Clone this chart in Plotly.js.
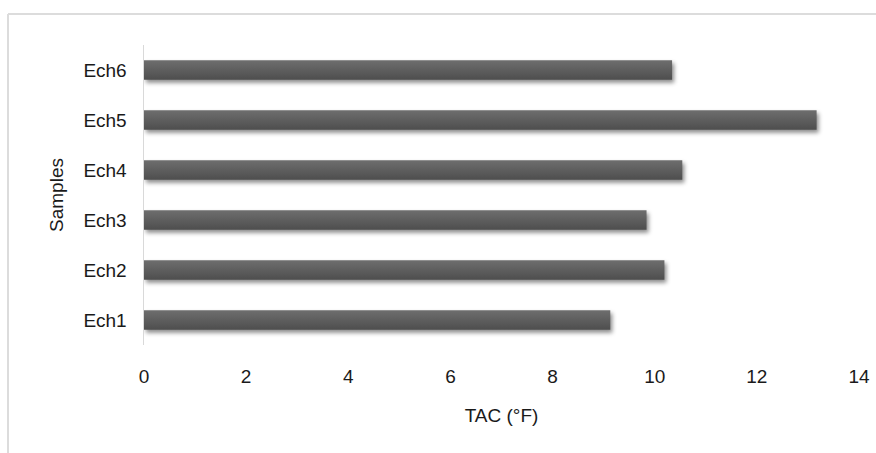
<!DOCTYPE html>
<html>
<head>
<meta charset="utf-8">
<script src="https://cdn.plot.ly/plotly-3.0.1.min.js"></script>
<style>
  html, body { margin: 0; padding: 0; background: #ffffff; }
  #chart { width: 876px; height: 453px; }
  .bars .point path { filter: drop-shadow(2px 3px 2px rgba(0,0,0,0.45)); }
</style>
</head>
<body>
<div id="chart"></div>
<script>
// Samples and their TAC values (°F)
const samples = ["Ech1", "Ech2", "Ech3", "Ech4", "Ech5", "Ech6"];
const tacValues = [9.13, 10.19, 9.84, 10.54, 13.17, 10.34];
const xTicks = [0, 2, 4, 6, 8, 10, 12, 14];

const font = { family: "Liberation Sans, Arial, sans-serif", size: 19, color: "#1a1a1a" };

const trace = {
  type: "bar",
  orientation: "h",
  y: samples,
  x: tacValues,
  marker: { color: "#5c5c5c", line: { width: 0 } },
  hoverinfo: "x+y"
};

const layout = {
  width: 876,
  height: 453,
  margin: { l: 144, r: 17, t: 45, b: 108 },
  paper_bgcolor: "#ffffff",
  plot_bgcolor: "#ffffff",
  font: font,
  bargap: 0.61,
  showlegend: false,
  xaxis: {
    range: [0, 14],
    tickvals: xTicks,
    ticktext: xTicks.map(String),
    showgrid: false,
    zeroline: false,
    showline: false,
    ticks: "",
    ticklabelstandoff: 18,
    tickfont: font,
    title: { text: "TAC (°F)", font: font, standoff: 22 },
    automargin: false
  },
  yaxis: {
    categoryorder: "array",
    categoryarray: samples,
    showgrid: false,
    zeroline: false,
    showline: true,
    linecolor: "#d9d9d9",
    linewidth: 1.5,
    ticks: "",
    ticklabelstandoff: 12,
    tickfont: font,
    title: { text: "Samples", font: font, standoff: 14 },
    automargin: false
  },
  shapes: [
    // outer chart frame: left and top edges
    { type: "line", xref: "paper", yref: "paper",
      x0: (8 - 144) / 715, x1: (8 - 144) / 715,
      y0: (453 - 108 - 460) / 300, y1: 1 + (45 - 14) / 300,
      line: { color: "#dcdcdc", width: 2 } },
    { type: "line", xref: "paper", yref: "paper",
      x0: (8 - 144) / 715, x1: 1 + 40 / 715,
      y0: 1 + (45 - 14) / 300, y1: 1 + (45 - 14) / 300,
      line: { color: "#dcdcdc", width: 2 } }
  ]
};

Plotly.newPlot("chart", [trace], layout, { displayModeBar: false, staticPlot: true }).then(function (gd) {
  // vertical shading on the bars: lighter on top, darker underneath
  const svg = gd.querySelector(".main-svg");
  const ns = "http://www.w3.org/2000/svg";
  let defs = svg.querySelector("defs");
  if (!defs) { defs = document.createElementNS(ns, "defs"); svg.insertBefore(defs, svg.firstChild); }
  const grad = document.createElementNS(ns, "linearGradient");
  grad.setAttribute("id", "barShade");
  grad.setAttribute("x1", "0"); grad.setAttribute("y1", "0");
  grad.setAttribute("x2", "0"); grad.setAttribute("y2", "1");
  [["0%", "#6e6e6e"], ["50%", "#5e5e5e"], ["100%", "#4e4e4e"]].forEach(function (s) {
    const stop = document.createElementNS(ns, "stop");
    stop.setAttribute("offset", s[0]);
    stop.setAttribute("stop-color", s[1]);
    grad.appendChild(stop);
  });
  defs.appendChild(grad);
  gd.querySelectorAll(".bars .point path").forEach(function (p) {
    p.style.fill = "url(#barShade)";
  });
});
</script>
</body>
</html>
